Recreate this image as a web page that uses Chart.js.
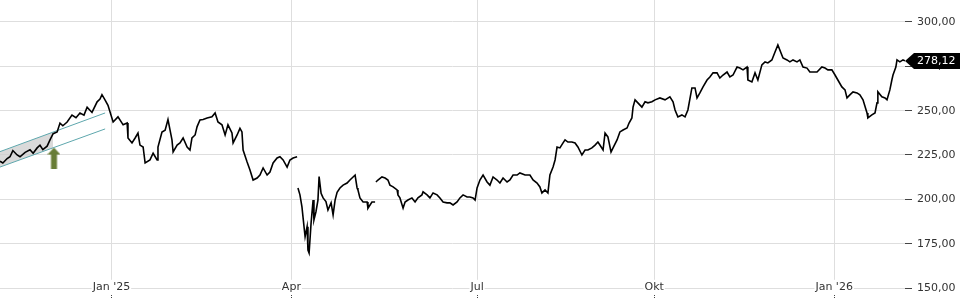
<!DOCTYPE html>
<html>
<head>
<meta charset="utf-8">
<style>
  html, body { margin: 0; padding: 0; background: #fff; }
  #wrap { width: 960px; height: 300px; }
</style>
<script src="https://cdn.jsdelivr.net/npm/chart.js@4.4.1/dist/chart.umd.min.js"></script>
</head>
<body>
<div id="wrap"><canvas id="chart" width="960" height="300"></canvas></div>
<script>
// trading days since start (fractional = intraday) and closing prices
const days = [
  0, 1, 2.5, 3.5, 4.5, 6, 7, 8.8, 10.5, 11.6,
  13, 14, 15, 16.5, 17.5, 18.6, 20, 21, 22, 23.5,
  25.2, 26.6, 28, 29.4, 30.5, 32.2, 34, 35, 35.7, 36.8,
  37.8, 39.6, 41.3, 43.1, 44.5, 44.8, 46.2, 47.3, 48.3, 49,
  50.1, 50.8, 52.5, 53.6, 55, 55.3, 56.7, 57.8, 58.8, 60.2,
  60.6, 62, 63, 64.1, 65.5, 66.5, 67.2, 68.3, 69, 70,
  71.1, 72.5, 74.2, 75.3, 76.3, 77.7, 78.8, 79.8, 81.2, 81.6,
  83, 84, 84.7, 85.1, 86.5, 87.5, 88.6, 90, 91, 92.1,
  93.5, 94.5, 95.6, 97, 98, 99.1, 100.5, 101.5, 102.6, 104,
  104.3, 105, 105.7, 106.1, 106.8, 107.5, 107.8, 108.2, 108.9, 109.6,
  109.9, 110.6, 111.3, 111.7, 112.4, 113.1, 114.1, 114.8, 115.9, 116.6,
  117.3, 118, 119, 120.1, 121.5, 122.5, 123.6, 124.3, 125, 125.3,
  126, 127.1, 128.5, 128.8, 130.2, 131.3, 131.6, 132.3, 133.7, 134.8,
  135.8, 136.5, 137.6, 139, 139.3, 140, 141.1, 141.8, 142.8, 144.2,
  145.3, 146.3, 147.7, 148.1, 149.5, 150.5, 151.6, 153, 154, 155.1,
  156.5, 157.5, 158.6, 160, 161, 162.1, 163.5, 164.5, 165.6, 166.3,
  167,
  168, 169.1, 170.5, 171.5, 172.6, 174, 175, 176.1, 177.5, 178.5,
  179.6, 181, 182, 183.8, 185.5, 186.6, 188, 189, 189.7, 190.8,
  191.8, 192.5, 193.6, 194.3, 195, 196, 197.1, 197.8, 198.8, 200.2,
  201.3, 202.3, 203.7, 204.8, 205.8, 207.2, 208.3, 209.3, 210, 211.1,
  211.8, 212.8, 213.9, 214.6, 216, 217, 218.1, 219.5, 220.2, 221.2,
  221.6, 222.3, 223.3, 224.7, 225.8, 226.8, 228.2, 229.3, 231, 232.8,
  234.5, 235.6, 236.3, 237.3, 238.7, 239.8, 240.8,
  242.2, 243.3, 244, 245, 246.1, 247.5, 248.5, 249.6, 251, 252,
  253.1, 254.5, 255.5, 256.6, 258, 259, 260.1, 261.5, 261.8, 263.2,
  264.3, 265.3, 266.7, 267.8, 268.8, 270.2, 271.3, 272.3, 273.4, 274.1,
  275.5, 276.5, 277.6, 279, 280, 281.1, 282.5, 283.5, 284.6, 286,
  287.7, 288.8, 289.8, 291.2, 292.3, 293.3, 294.7, 295.8, 296.5, 297.5,
  298.6, 300, 301,
  302.1, 303.5, 303.8, 305.2, 306.3, 307, 307.3, 308.7, 309.8, 310.5,
  311.5, 312.2, 312.6, 313.6, 314, 315, 316.1, 316.8,
];

const closes = [
  221.5, 220.5, 223, 224, 227.5, 225, 224, 226.5, 228, 226,
  229, 230.5, 228, 230, 233.5, 237, 238, 243, 241.5, 243.6,
  247.5, 246, 248.7, 247.5, 252, 249, 255, 256.5, 259, 256,
  253, 243.6, 246.5, 242, 243, 234.6, 231.8, 234.6, 237.4, 230.6,
  229.5, 220.5, 222.2, 226, 222.2, 229.5, 238, 239, 245, 233.5,
  226.7, 230.6, 231.8, 234.6, 229.5, 227.8, 234.6, 236.3, 241, 244.8,
  245, 245.9, 246.5, 248.7, 243.6, 242, 236.3, 242, 237.4, 231.8,
  236.3, 240, 238, 227.8, 221, 216.6, 210.9, 212, 213.7, 217.7,
  213.7, 215.4, 220.5, 223.3, 224, 222.2, 218.2, 222.2, 223.3, 224,
  206.4, 202.5, 195.7, 189.5, 178.9, 184.6, 171.4, 169.7, 186.7, 199.6,
  188.4, 193, 199.6, 212.8, 203.4, 200.8, 198.7, 194, 198, 191.2,
  199.6, 204, 206.4, 208, 209.2, 210.9, 212.6, 213.7, 206.4, 205.3,
  200.8, 198.5, 198.5, 195, 198.5, 198.5, 209.8, 210.9, 212.6, 212,
  210.9, 208, 207, 205.3, 202.5, 200.8, 195, 198.5, 199.6, 200.8,
  198.5, 200.8, 202.5, 204.2, 202.5, 200.8, 203.6, 202.5, 200.8, 198.5,
  198, 198, 196.8, 198.5, 200.8, 202.5, 201.3, 201.3, 200.8, 199.6,
  206.4,
  210.9, 213.7, 209.8, 208, 212.6, 210.9, 209.2, 212, 209.8, 210.9,
  213.7, 213.7, 214.9, 213.7, 213.7, 210.9, 209.2, 207, 203.6, 205.3,
  203.6, 213.7, 218.2, 222.2, 229.5, 229, 231.8, 233.5, 232.3, 232.3,
  231.8, 229.5, 225, 227.8, 227.8, 229, 230.6, 232.3, 230.6, 227.8,
  237.4, 235.2, 226.7, 229, 233.5, 238, 239.1, 240.2, 243, 245.9,
  252, 256.1, 254.4, 252, 255, 254.4, 255, 256.1, 257.2, 256.1,
  257.8, 255, 250.4, 246.5, 247.6, 246.5, 250.4,
  262.8, 262.8, 257.2, 260, 263.4, 267.3, 269, 271.3, 271.3, 268.4,
  270.1, 271.8, 269, 270.1, 274.6, 274, 273, 274.6, 267.3, 266.2,
  271.3, 267.3, 275.8, 277.5, 276.9, 278.6, 283.1, 287.1, 282.5, 279.7,
  278.6, 277.5, 278.6, 277.5, 278.6, 274.6, 274, 271.8, 271.8, 271.8,
  274.6, 274, 273, 273, 270.1, 267.3, 263.4, 261.7, 257.2, 258.9,
  260.6, 260, 258.9,
  256.1, 248.7, 245.9, 247.6, 248.7, 254.4, 260.6, 257.8, 257.2, 256.1,
  261.7, 267.3, 270.1, 274.6, 278.6, 277.5, 278.6, 278.12,
];

// price gaps (no connecting stroke into these days)
const gapDays = [104.3, 131.6];

const tickDays = [39, 102, 167, 229, 292];
const tickLabels = ["Jan '25", "Apr", "Jul", "Okt", "Jan '26"];
const priceTicks = [150, 175, 200, 225, 250, 275, 300];

// trend channel
const channelDays = [0, 36.8];
const channelUpper = [226.9, 248.7];
const channelLower = [218.2, 239.7];
const shadeDays = [0, 18.6];
const shadeUpper = [226.9, 237.9];
const shadeLower = [218.2, 229.1];

// buy signal
const signalDays = [18.9];
const signalPrices = [223.3];

const Y_MIN = 150;
const Y_MAX = 312.4;

Chart.defaults.font.family = "'DejaVu Sans', sans-serif";
Chart.defaults.font.size = 11;
Chart.defaults.color = "#333";

const lastClose = closes[closes.length - 1];

function price(v) {
  return v.toFixed(2).replace(".", ",");
}

function points(xs, ys) {
  return xs.map((x, i) => ({ x, y: ys[i] }));
}

function noPadding(axis) {
  axis.paddingLeft = 0;
  axis.paddingRight = 0;
  axis.paddingTop = 0;
  axis.paddingBottom = 0;
}

function makeArrow() {
  const c = document.createElement("canvas");
  c.width = 13;
  c.height = 21;
  const g = c.getContext("2d");
  g.fillStyle = "#687d36";
  g.beginPath();
  g.moveTo(6.5, 0);
  g.lineTo(13, 7);
  g.lineTo(9.5, 7);
  g.lineTo(9.5, 21);
  g.lineTo(3.5, 21);
  g.lineTo(3.5, 7);
  g.lineTo(0, 7);
  g.closePath();
  g.fill();
  return c;
}

const lastPriceTag = {
  id: "lastPriceTag",
  afterDraw(chart) {
    const { ctx, chartArea, scales } = chart;
    const y = Math.round(scales.y.getPixelForValue(lastClose));
    const x0 = chartArea.right;
    ctx.save();
    ctx.fillStyle = "#000";
    ctx.beginPath();
    ctx.moveTo(x0, y);
    ctx.lineTo(x0 + 9, y - 8);
    ctx.lineTo(chart.width, y - 8);
    ctx.lineTo(chart.width, y + 8);
    ctx.lineTo(x0 + 9, y + 8);
    ctx.closePath();
    ctx.fill();
    ctx.fillStyle = "#fff";
    ctx.font = "11px 'DejaVu Sans'";
    ctx.textBaseline = "middle";
    ctx.fillText(price(lastClose), x0 + 12, y + 0.5);
    ctx.restore();
  },
};

new Chart(document.getElementById("chart"), {
  type: "line",
  data: {
    datasets: [
      {
        data: points(days, closes),
        borderColor: "#000",
        borderWidth: 1.6,
        pointRadius: 0,
        tension: 0,
        segment: {
          borderColor: (c) => (gapDays.includes(c.p1.parsed.x) ? "rgba(0,0,0,0)" : "#000"),
        },
      },
      {
        data: points(signalDays, signalPrices),
        showLine: false,
        pointStyle: makeArrow(),
        pointRadius: 10,
      },
      {
        data: points(channelDays, channelUpper),
        borderColor: "#5ea7ad",
        borderWidth: 1,
        pointRadius: 0,
      },
      {
        data: points(channelDays, channelLower),
        borderColor: "#5ea7ad",
        borderWidth: 1,
        pointRadius: 0,
      },
      {
        data: points(shadeDays, shadeUpper),
        borderWidth: 0,
        pointRadius: 0,
        backgroundColor: "rgba(205,205,205,0.75)",
        fill: "+1",
      },
      {
        data: points(shadeDays, shadeLower),
        borderWidth: 0,
        pointRadius: 0,
      },
    ],
  },
  options: {
    responsive: false,
    animation: false,
    layout: { padding: 0, autoPadding: false },
    plugins: {
      legend: { display: false },
      tooltip: { enabled: false },
    },
    scales: {
      x: {
        type: "linear",
        min: 0,
        max: days[days.length - 1],
        afterBuildTicks: (axis) => {
          axis.ticks = tickDays.map((v) => ({ value: v }));
        },
        afterFit: (axis) => {
          axis.height = 12;
          noPadding(axis);
        },
        ticks: {
          autoSkip: false,
          maxRotation: 0,
          mirror: true,
          padding: -6,
          color: "#333",
          showLabelBackdrop: true,
          backdropColor: "#fff",
          backdropPadding: 1,
          callback: (v, i) => tickLabels[i],
        },
        grid: { color: "#dedede", tickColor: "#444", tickLength: 10, tickBorderDash: [2, 1] },
        border: { display: false },
      },
      y: {
        position: "right",
        min: Y_MIN,
        max: Y_MAX,
        afterBuildTicks: (axis) => {
          axis.ticks = priceTicks.map((v) => ({ value: v }));
        },
        afterFit: (axis) => {
          axis.width = 55;
          noPadding(axis);
        },
        ticks: {
          padding: 5,
          color: "#333",
          callback: (v) => price(v),
        },
        grid: { color: "#dedede", tickColor: "#444", tickLength: 7 },
        border: { display: false },
      },
    },
  },
  plugins: [lastPriceTag],
});
</script>
</body>
</html>
